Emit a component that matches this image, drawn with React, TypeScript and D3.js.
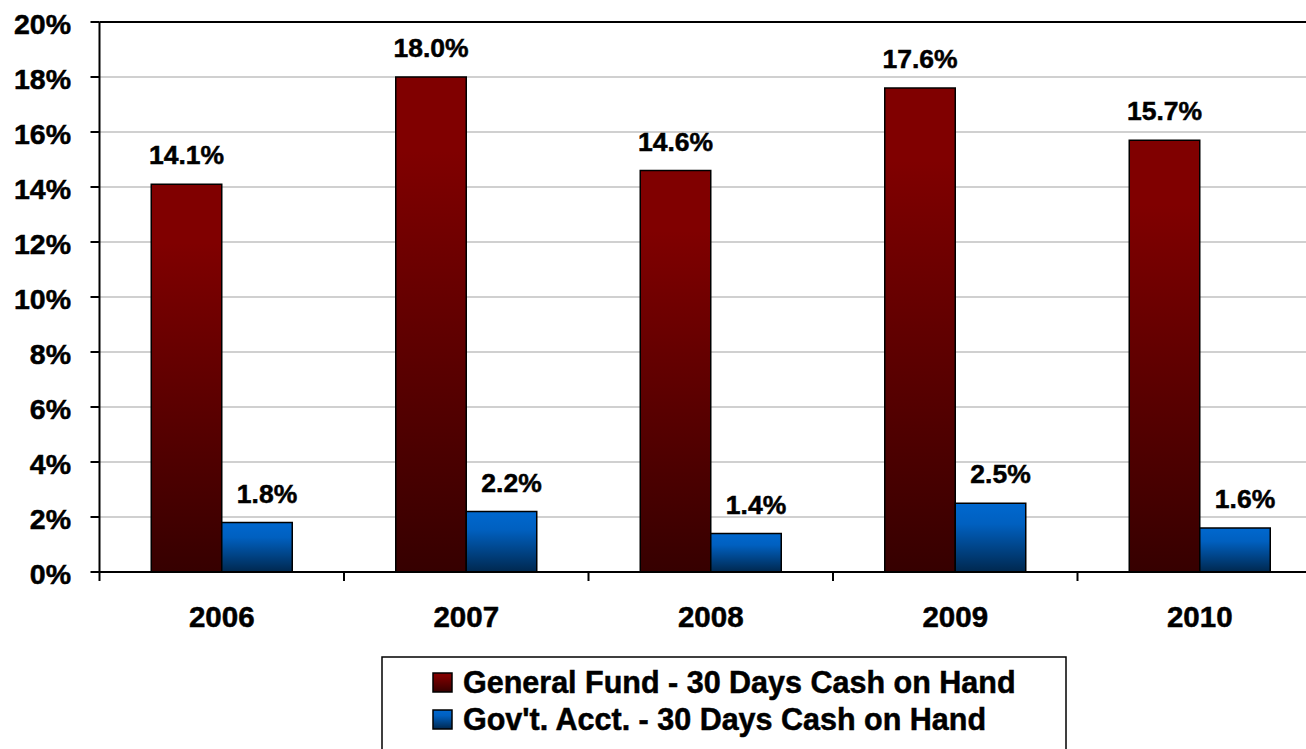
import React from "react";
import * as d3 from "d3";

// chart data
const years = ["2006", "2007", "2008", "2009", "2010"];
const generalFund = [14.1, 18.0, 14.6, 17.6, 15.7];
const govAcct = [1.8, 2.2, 1.4, 2.5, 1.6];
const seriesNames = [
  "General Fund - 30 Days Cash on Hand",
  "Gov't. Acct. - 30 Days Cash on Hand",
];
const yTicks = [0, 2, 4, 6, 8, 10, 12, 14, 16, 18, 20];

const W = 1306;
const H = 749;
const FONT = "'Liberation Sans', Arial, sans-serif";

const App = () => {
  const left = 99.5;
  const top = 22;
  const bottom = 572;
  const step = 244.5;

  const x = d3
    .scaleBand<string>()
    .domain(years)
    .range([left, left + step * years.length])
    .padding(0);

  const y = d3.scaleLinear().domain([0, 20]).range([bottom, top]);

  const barW = 70.5;
  const series = [
    { name: seriesNames[0], values: generalFund, grad: "gradRed", labelDx: 0 },
    { name: seriesNames[1], values: govAcct, grad: "gradBlue", labelDx: 10 },
  ];

  // inner scale places the two bars side by side in the middle of each band
  const inner = d3
    .scaleBand<number>()
    .domain([0, 1])
    .range([-barW, barW])
    .padding(0);

  return (
    <svg
      width={W}
      height={H}
      style={{ position: "absolute", left: 0, top: 0, background: "#fff" }}
      fontFamily={FONT}
      fontWeight="bold"
    >
      <defs>
        <linearGradient id="gradRed" x1="0" y1="0" x2="0" y2="1">
          <stop offset="0" stopColor="#800000" />
          <stop offset="0.15" stopColor="#800000" />
          <stop offset="1" stopColor="#360000" />
        </linearGradient>
        <linearGradient id="gradBlue" x1="0" y1="0" x2="0" y2="1">
          <stop offset="0" stopColor="#0068cf" />
          <stop offset="0.3" stopColor="#0060c0" />
          <stop offset="1" stopColor="#00284f" />
        </linearGradient>
      </defs>

      {/* gridlines */}
      {yTicks.slice(1, -1).map((t) => (
        <line
          key={"g" + t}
          x1={left}
          x2={W}
          y1={y(t)}
          y2={y(t)}
          stroke="#c0c0c0"
          strokeWidth={1.5}
        />
      ))}
      <line x1={left} x2={W} y1={y(20)} y2={y(20)} stroke="#000" strokeWidth={2} />

      {/* bars */}
      {series.map((s, si) =>
        years.map((yr, i) => {
          const cx = (x(yr) as number) + x.bandwidth() / 2;
          const bx = cx + (inner(si) as number);
          const by = y(s.values[i]);
          return (
            <g key={s.grad + yr}>
              <rect
                x={bx}
                y={by}
                width={inner.bandwidth()}
                height={bottom - by}
                fill={`url(#${s.grad})`}
                stroke="#000"
                strokeWidth={1.5}
              />
              <text
                x={bx + inner.bandwidth() / 2 + s.labelDx}
                y={by - 20}
                fontSize={26.5}
                textAnchor="middle"
                fill="#000"
                stroke="#000"
                strokeWidth={0.5}
              >
                {s.values[i].toFixed(1) + "%"}
              </text>
            </g>
          );
        })
      )}

      {/* y axis */}
      <line x1={left} x2={left} y1={top} y2={bottom} stroke="#000" strokeWidth={2} />
      {yTicks.map((t) => (
        <g key={"y" + t}>
          <line x1={left - 9} x2={left} y1={y(t)} y2={y(t)} stroke="#000" strokeWidth={2} />
          <text
            x={71}
            y={y(t) + 12}
            fontSize={28.5}
            textAnchor="end"
            fill="#000"
            stroke="#000"
            strokeWidth={0.5}
          >
            {t + "%"}
          </text>
        </g>
      ))}

      {/* x axis */}
      <line x1={left} x2={W} y1={bottom} y2={bottom} stroke="#000" strokeWidth={2} />
      {years.map((yr) => (
        <g key={"x" + yr}>
          <line
            x1={x(yr) as number}
            x2={x(yr) as number}
            y1={bottom}
            y2={bottom + 9}
            stroke="#000"
            strokeWidth={2}
          />
          <text
            x={(x(yr) as number) + x.bandwidth() / 2}
            y={627}
            fontSize={29.5}
            textAnchor="middle"
            fill="#000"
            stroke="#000"
            strokeWidth={0.5}
          >
            {yr}
          </text>
        </g>
      ))}

      {/* legend */}
      <rect x={382} y={657} width={684} height={110} fill="#fff" stroke="#000" strokeWidth={1.5} />
      {series.map((s, i) => (
        <g key={"l" + i} transform={`translate(433, ${673 + i * 37})`}>
          <rect width={19} height={19} fill={`url(#${s.grad})`} stroke="#000" strokeWidth={1.5} />
          <text
            x={30}
            y={19.5}
            fontSize={30.5}
            fill="#000"
            stroke="#000"
            strokeWidth={0.5}
          >
            {s.name}
          </text>
        </g>
      ))}
    </svg>
  );
};

export default App;
